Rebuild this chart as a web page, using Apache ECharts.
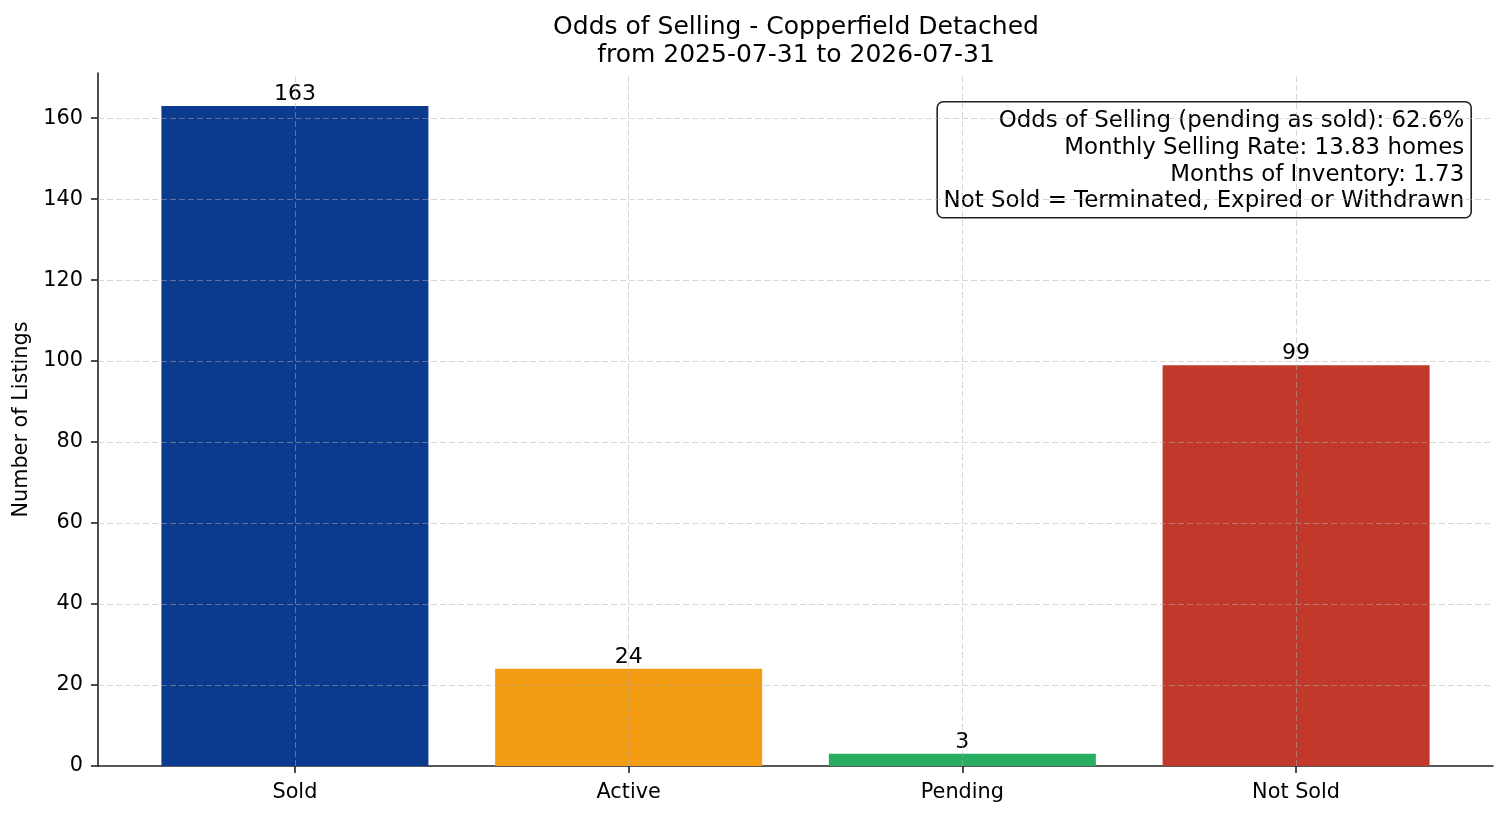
<!DOCTYPE html>
<html>
<head>
<meta charset="utf-8">
<script src="https://cdn.jsdelivr.net/npm/echarts@6/dist/echarts.min.js"></script>
<style>
html, body { margin: 0; padding: 0; background: #fff; }
#chart { width: 1507px; height: 816px; }
</style>
</head>
<body>
<div id="chart"></div>
<script>
// data
var categories = ['Sold', 'Active', 'Pending', 'Not Sold'];
var counts = [163, 24, 3, 99];
var barColors = ['#0b3b8f', '#f39c12', '#27ae60', '#c0392b'];
var yTicks = [0, 20, 40, 60, 80, 100, 120, 140, 160];
var xTicks = [0, 1, 2, 3];
var noteLines = [
	'Odds of Selling (pending as sold): 62.6%',
	'Monthly Selling Rate: 13.83 homes',
	'Months of Inventory: 1.73',
	'Not Sold = Terminated, Expired or Withdrawn'
];

var chart = echarts.init(document.getElementById('chart'));
var font = 'DejaVu Sans';

var barData = [];
for (var i = 0; i < counts.length; i++) {
	barData.push({ value: [i, counts[i]], itemStyle: { color: barColors[i] } });
}

// grid lines, drawn over the bars like the original (skip the one under the x axis)
var gridLines = [];
xTicks.forEach(function (v) { gridLines.push({ xAxis: v }); });
yTicks.forEach(function (v) { if (v > 0) gridLines.push({ yAxis: v }); });

var option = {
	animation: false,
	textStyle: { fontFamily: font },
	title: {
		text: 'Odds of Selling - Copperfield Detached\nfrom 2025-07-31 to 2026-07-31',
		left: 791,
		top: 8,
		textAlign: 'center',
		textStyle: {
			fontFamily: font,
			fontSize: 25,
			fontWeight: 'normal',
			color: '#000',
			lineHeight: 28
		}
	},
	grid: { left: 98, right: 14, top: 73, bottom: 50 },
	xAxis: {
		type: 'value',
		min: -0.59,
		max: 3.59,
		splitLine: { show: false },
		axisLine: { onZero: false, lineStyle: { color: '#222', width: 1.6 } },
		axisTick: { show: true, length: 7, customValues: xTicks, lineStyle: { color: '#222', width: 1.6 } },
		axisLabel: {
			customValues: xTicks,
			margin: 16,
			fontSize: 20.8,
			color: '#000',
			fontFamily: font,
			formatter: function (v) { return categories[Math.round(v)]; }
		}
	},
	yAxis: {
		type: 'value',
		min: 0,
		max: 171.15,
		name: 'Number of Listings',
		nameLocation: 'middle',
		nameRotate: 90,
		nameGap: 64,
		nameTextStyle: { fontSize: 20.8, color: '#000', fontFamily: font },
		splitLine: { show: false },
		axisLine: { show: true, onZero: false, lineStyle: { color: '#222', width: 1.6 } },
		axisTick: { show: true, length: 7, customValues: yTicks, lineStyle: { color: '#222', width: 1.6 } },
		axisLabel: { customValues: yTicks, margin: 15, fontSize: 20.8, color: '#000', fontFamily: font }
	},
	series: [{
		type: 'bar',
		barWidth: 267,
		data: barData,
		label: {
			show: true,
			position: 'top',
			distance: 1,
			fontSize: 22,
			color: '#000',
			fontFamily: font,
			formatter: function (p) { return p.value[1]; }
		}
	}, {
		type: 'line',
		data: [],
		z: 10,
		silent: true,
		markLine: {
			silent: true,
			symbol: ['none', 'none'],
			label: { show: false },
			lineStyle: { type: [6, 3], color: '#b0b0b0', opacity: 0.5, width: 1 },
			emphasis: { disabled: true },
			data: gridLines
		}
	}],
	graphic: [{
		type: 'group',
		right: 35,
		top: 101,
		z: 20,
		children: [{
			type: 'rect',
			shape: { x: 0, y: 0, width: 534, height: 116, r: 6 },
			style: { fill: '#fff', stroke: '#222', lineWidth: 1.6 }
		}, {
			type: 'text',
			x: 527,
			y: 6,
			style: {
				text: noteLines.join('\n'),
				font: '22.9px "DejaVu Sans"',
				fill: '#000',
				align: 'right',
				verticalAlign: 'top',
				lineHeight: 26.7
			}
		}]
	}]
};
chart.setOption(option);
</script>
</body>
</html>
